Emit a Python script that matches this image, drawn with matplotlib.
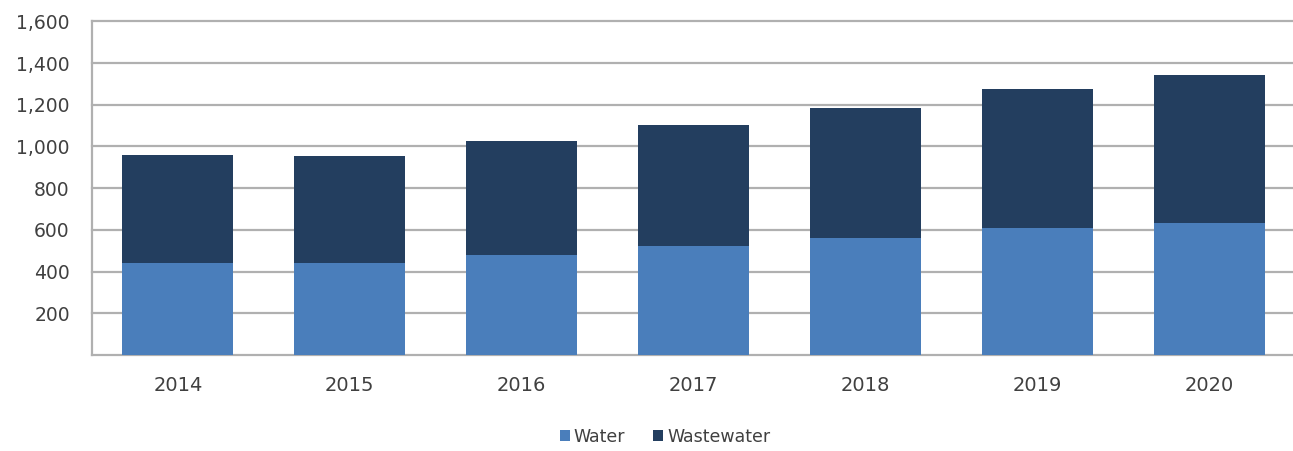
import matplotlib.pyplot as plt
import numpy as np

years = ['2014', '2015', '2016', '2017', '2018', '2019', '2020']
water = [442, 442, 480, 525, 560, 610, 635]
total = [960, 955, 1027, 1104, 1187, 1277, 1344]
wastewater = [t - w for t, w in zip(total, water)]

yticks = [200, 400, 600, 800, 1000, 1200, 1400, 1600]

plt.rcParams['font.family'] = ['DejaVu Sans']

fig = plt.figure(figsize=(12.93, 4.51), dpi=100)
ax = fig.add_axes([92 / 1293, 1 - 355 / 451, (1295 - 92) / 1293, (355 - 21.4) / 451])

x = np.arange(len(years))
ax.bar(x, water, width=0.646, color='#4A7EBB', label='Water', zorder=3)
ax.bar(x, wastewater, bottom=water, width=0.646, color='#233E5F', label='Wastewater', zorder=3)

ax.set_xlim(-0.5, len(years) - 0.5)
ax.set_ylim(0, 1600)
ax.set_yticks(yticks)
ax.set_yticklabels([f'{v:,}' for v in yticks], fontsize=13.5, color='#404040')
ax.set_xticks(x)
ax.set_xticklabels(years, fontsize=14, color='#404040')
ax.tick_params(axis='both', length=0)
ax.tick_params(axis='y', pad=16)
ax.tick_params(axis='x', pad=15)

ax.yaxis.grid(True, color='#B0B0B0', linewidth=1.6, zorder=0)
for line in ax.get_ygridlines():
    line.set_clip_on(False)
for s in ['top', 'right']:
    ax.spines[s].set_visible(False)
ax.spines['left'].set_color('#B0B0B0')
ax.spines['bottom'].set_color('#B0B0B0')
ax.spines['left'].set_linewidth(1.6)
ax.spines['bottom'].set_linewidth(1.6)

fig.legend(loc='center', bbox_to_anchor=(665 / 1293, 1 - 437 / 451), ncol=2,
           frameon=False, fontsize=12.5, handlelength=0.58, handleheight=0.58,
           handletextpad=0.23, columnspacing=1.6, labelcolor='#404040')

fig.savefig('out.png', dpi=100)
